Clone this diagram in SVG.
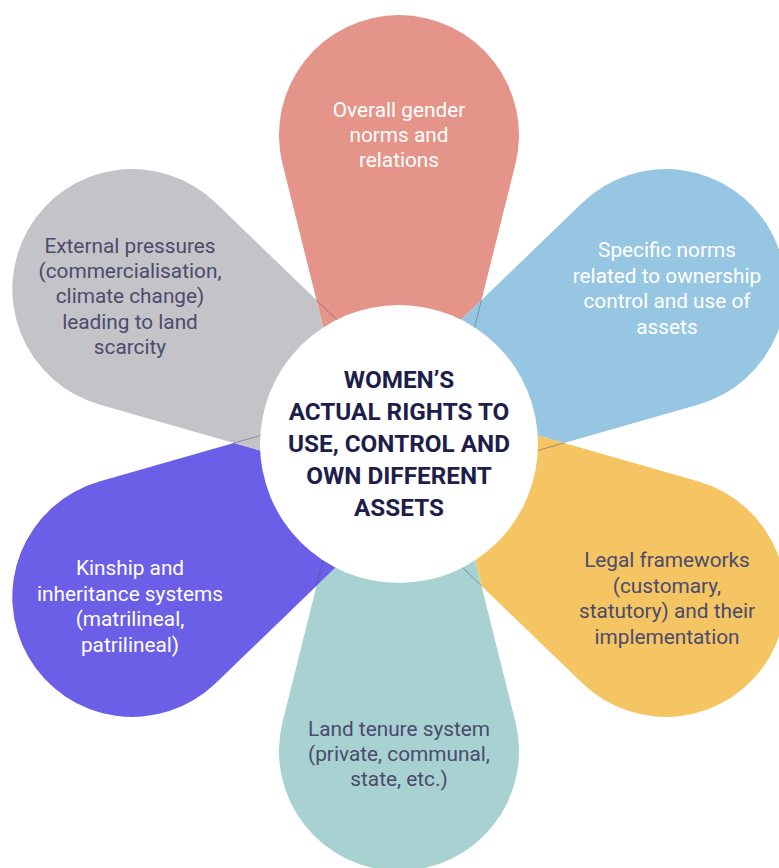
<svg xmlns="http://www.w3.org/2000/svg" width="779" height="868" viewBox="0 0 779 868">
  <style>
    .lbl { font-family: Roboto, "Liberation Sans", sans-serif; font-size: 20.8px; text-anchor: middle; }
    .light { fill: #ffffff; }
    .dark { fill: #4b4b6d; }
    .center { font-family: Roboto, "Liberation Sans", sans-serif; font-size: 24.3px; font-weight: 700; text-anchor: middle; fill: #1e1e4a; }
    .seam { fill: none; stroke: #4a4a66; stroke-width: 0.7; stroke-opacity: 0.6; }
  </style>
  <defs>
    <path id="petal" d="M143,82.5 L278.92,116.44 A120,120 0 1 0 278.92,-116.44 L143,-82.5 L100,-71.76 L0,0 L112.15,50.72 Z"/>
    <path id="seamline" d="M143,82.5 L100,71.76"/>
  </defs>
  <rect width="779" height="868" fill="#ffffff"/>

  <g id="node-gender-norms">
    <use href="#petal" transform="translate(399,443) rotate(-90)" fill="#e49488"/>
    <text class="lbl light"><tspan x="399" y="117">Overall gender</tspan><tspan x="399" y="142">norms and</tspan><tspan x="399" y="167">relations</tspan></text>
  </g>
  <g id="node-specific-norms">
    <use href="#petal" transform="translate(399,443) rotate(-30)" fill="#97c6e3"/>
    <text class="lbl light"><tspan x="667" y="257">Specific norms</tspan><tspan x="667" y="283">related to ownership</tspan><tspan x="667" y="308">control and use of</tspan><tspan x="667" y="334">assets</tspan></text>
  </g>
  <g id="node-legal">
    <use href="#petal" transform="translate(399,443) rotate(30)" fill="#f5c463"/>
    <text class="lbl dark"><tspan x="667" y="567">Legal frameworks</tspan><tspan x="667" y="593">(customary,</tspan><tspan x="667" y="618">statutory) and their</tspan><tspan x="667" y="644">implementation</tspan></text>
  </g>
  <g id="node-land-tenure">
    <use href="#petal" transform="translate(399,443) rotate(90)" fill="#a8d1d1"/>
    <text class="lbl dark"><tspan x="399" y="736">Land tenure system</tspan><tspan x="399" y="761">(private, communal,</tspan><tspan x="399" y="786">state, etc.)</tspan></text>
  </g>
  <g id="node-kinship">
    <use href="#petal" transform="translate(399,443) rotate(150)" fill="#6b5fe7"/>
    <text class="lbl light"><tspan x="130" y="575">Kinship and</tspan><tspan x="130" y="601">inheritance systems</tspan><tspan x="130" y="626">(matrilineal,</tspan><tspan x="130" y="652">patrilineal)</tspan></text>
  </g>
  <g id="node-external">
    <use href="#petal" transform="translate(399,443) rotate(210)" fill="#c4c3c8"/>
    <text class="lbl dark"><tspan x="130" y="253">External pressures</tspan><tspan x="130" y="278">(commercialisation,</tspan><tspan x="130" y="303">climate change)</tspan><tspan x="130" y="329">leading to land</tspan><tspan x="130" y="354">scarcity</tspan></text>
  </g>

  <g id="connectors">
    <use href="#seamline" class="seam" transform="translate(399,443) rotate(-90)"/>
    <use href="#seamline" class="seam" transform="translate(399,443) rotate(-30)"/>
    <use href="#seamline" class="seam" transform="translate(399,443) rotate(30)"/>
    <use href="#seamline" class="seam" transform="translate(399,443) rotate(90)"/>
    <use href="#seamline" class="seam" transform="translate(399,443) rotate(150)"/>
    <use href="#seamline" class="seam" transform="translate(399,443) rotate(210)"/>
  </g>

  <g id="node-center">
    <circle cx="399" cy="444" r="139" fill="#ffffff"/>
    <text class="center"><tspan x="399" y="388">WOMEN’S</tspan><tspan x="399" y="420">ACTUAL RIGHTS TO</tspan><tspan x="399" y="452">USE, CONTROL AND</tspan><tspan x="399" y="484">OWN DIFFERENT</tspan><tspan x="399" y="516">ASSETS</tspan></text>
  </g>
</svg>
